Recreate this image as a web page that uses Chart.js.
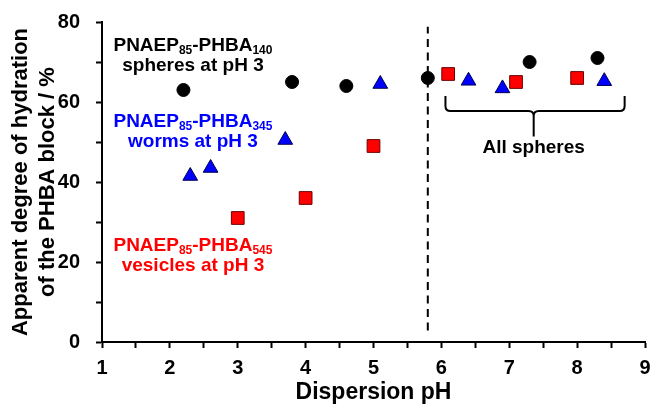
<!DOCTYPE html>
<html>
<head>
<meta charset="utf-8">
<title>Hydration vs pH</title>
<script src="https://cdn.jsdelivr.net/npm/chart.js@4.4.1/dist/chart.umd.min.js"></script>
<style>
  body { margin: 0; background: #fff; }
  #wrap { width: 652px; height: 404px; }
</style>
</head>
<body>
<div id="wrap"><canvas id="myChart"></canvas></div>
<script>
'use strict';

// data
const spheresPH = [2.2, 3.8, 4.6, 5.8, 7.3, 8.3];
const spheresHyd = [63, 65, 64, 66, 70, 71];

const wormsPH = [2.3, 2.6, 3.7, 5.1, 6.4, 6.9, 8.4];
const wormsHyd = [41.5, 43.5, 50.5, 64.5, 65.3, 63.4, 65.2];

const vesiclesPH = [3.0, 4.0, 5.0, 6.1, 7.1, 8.0];
const vesiclesHyd = [31, 36, 49, 67, 65, 66];

const dividerPH = [5.8, 5.8];
const dividerHyd = [2.9, 78.8];

const xTicks = [1, 2, 3, 4, 5, 6, 7, 8, 9];
const yTicks = [0, 20, 40, 60, 80];

function toPoints(xs, ys) {
  let pts = [];
  for (let i = 0; i < xs.length; i++) {
    pts.push({ x: xs[i], y: ys[i] });
  }
  return pts;
}

const FONT = '"Liberation Sans", Arial, sans-serif';

// text drawn in bold with subscripts, centred on x
function drawRich(ctx, parts, cx, by, color) {
  let widths = [];
  let total = 0;
  for (let i = 0; i < parts.length; i++) {
    ctx.font = parts[i].sub ? 'bold 12px ' + FONT : 'bold 19px ' + FONT;
    let w = ctx.measureText(parts[i].t).width;
    widths.push(w);
    total += w;
  }
  let x = cx - total / 2;
  ctx.fillStyle = color;
  ctx.textAlign = 'left';
  ctx.textBaseline = 'alphabetic';
  for (let i = 0; i < parts.length; i++) {
    ctx.font = parts[i].sub ? 'bold 12px ' + FONT : 'bold 19px ' + FONT;
    ctx.fillText(parts[i].t, x, parts[i].sub ? by + 3 : by);
    x += widths[i];
  }
}

const notes = [
  { x: 2.34, y: 72.7, color: '#000000', parts: [{ t: 'PNAEP' }, { t: '85', sub: true }, { t: '-PHBA' }, { t: '140', sub: true }] },
  { x: 2.34, y: 67.7, color: '#000000', parts: [{ t: 'spheres at pH 3' }] },
  { x: 2.34, y: 53.75, color: '#0000ff', parts: [{ t: 'PNAEP' }, { t: '85', sub: true }, { t: '-PHBA' }, { t: '345', sub: true }] },
  { x: 2.34, y: 48.75, color: '#0000ff', parts: [{ t: 'worms at pH 3' }] },
  { x: 2.34, y: 22.7, color: '#ff0000', parts: [{ t: 'PNAEP' }, { t: '85', sub: true }, { t: '-PHBA' }, { t: '545', sub: true }] },
  { x: 2.34, y: 17.7, color: '#ff0000', parts: [{ t: 'vesicles at pH 3' }] },
  { x: 7.36, y: 47.3, color: '#000000', parts: [{ t: 'All spheres' }] }
];

const notesPlugin = {
  id: 'notes',
  afterDatasetsDraw(chart) {
    const ctx = chart.ctx;
    const xs = chart.scales.x;
    const ys = chart.scales.y;
    ctx.save();

    // curly bracket over the sphere points
    let l = xs.getPixelForValue(6.06);
    let r = xs.getPixelForValue(8.70);
    let m = xs.getPixelForValue(7.36);
    let top = ys.getPixelForValue(61.5);
    let mid = ys.getPixelForValue(57.75);
    let tip = ys.getPixelForValue(51.4);
    let rad = 5;
    ctx.strokeStyle = '#000';
    ctx.lineWidth = 2;
    ctx.beginPath();
    ctx.moveTo(l, top);
    ctx.lineTo(l, mid - rad);
    ctx.quadraticCurveTo(l, mid, l + rad, mid);
    ctx.lineTo(m - rad, mid);
    ctx.quadraticCurveTo(m, mid, m, mid + rad);
    ctx.lineTo(m, tip);
    ctx.moveTo(m, mid + rad);
    ctx.quadraticCurveTo(m, mid, m + rad, mid);
    ctx.lineTo(r - rad, mid);
    ctx.quadraticCurveTo(r, mid, r, mid - rad);
    ctx.lineTo(r, top);
    ctx.stroke();

    for (let i = 0; i < notes.length; i++) {
      let n = notes[i];
      drawRich(ctx, n.parts, xs.getPixelForValue(n.x), ys.getPixelForValue(n.y), n.color);
    }
    ctx.restore();
  }
};

const ctx = document.getElementById('myChart').getContext('2d');
const myChart = new Chart(ctx, {
  type: 'scatter',
  data: {
    datasets: [{
      label: 'divider',
      type: 'line',
      data: toPoints(dividerPH, dividerHyd),
      borderColor: '#000',
      borderWidth: 2,
      borderDash: [8, 5.5],
      pointRadius: 0,
      fill: false
    }, {
      label: 'spheres',
      data: toPoints(spheresPH, spheresHyd),
      pointStyle: 'circle',
      pointRadius: 6.5,
      backgroundColor: '#000',
      borderColor: '#000',
      borderWidth: 1
    }, {
      label: 'vesicles',
      data: toPoints(vesiclesPH, vesiclesHyd),
      pointStyle: 'rect',
      pointRadius: 9,
      backgroundColor: '#ff0000',
      borderColor: '#6b0000',
      borderWidth: 1
    }, {
      label: 'worms',
      data: toPoints(wormsPH, wormsHyd),
      pointStyle: 'triangle',
      pointRadius: 8.5,
      backgroundColor: '#0000ff',
      borderColor: '#00004d',
      borderWidth: 1
    }]
  },
  options: {
    responsive: true,
    maintainAspectRatio: false,
    animation: false,
    layout: { autoPadding: false, padding: { top: 22, right: 7, left: 0, bottom: 0 } },
    plugins: {
      legend: { display: false },
      tooltip: { enabled: false }
    },
    scales: {
      x: {
        type: 'linear',
        min: 1,
        max: 9,
        afterFit(scale) {
          scale.height = 62;
          scale.paddingRight = 0;
        },
        border: { color: '#000', width: 2 },
        grid: { drawOnChartArea: false, drawTicks: true, tickLength: 6, tickWidth: 2, tickColor: '#000' },
        ticks: {
          stepSize: 0.5,
          autoSkip: false,
          maxRotation: 0,
          padding: 8,
          color: '#000',
          font: { family: FONT, size: 20, weight: 'bold' },
          callback: (v) => xTicks.includes(v) ? String(v) : ''
        },
        title: {
          display: true,
          text: 'Dispersion pH',
          color: '#000',
          font: { family: FONT, size: 23, weight: 'bold', lineHeight: 1 },
          padding: { top: 0, bottom: 0 }
        }
      },
      y: {
        min: 0,
        max: 80,
        afterFit(scale) {
          scale.width = 102;
          scale.paddingTop = 0;
        },
        border: { color: '#000', width: 2 },
        grid: { drawOnChartArea: false, drawTicks: true, tickLength: 6, tickWidth: 2, tickColor: '#000' },
        ticks: {
          stepSize: 10,
          autoSkip: false,
          padding: 16,
          color: '#000',
          font: { family: FONT, size: 20, weight: 'bold' },
          callback: (v) => yTicks.includes(v) ? String(v) : ''
        },
        title: {
          display: true,
          text: ['Apparent degree of hydration', 'of the PHBA block / %'],
          color: '#000',
          font: { family: FONT, size: 22, weight: 'bold', lineHeight: 1.2 },
          padding: { top: 8, bottom: 0 }
        }
      }
    }
  },
  plugins: [notesPlugin]
});
</script>
</body>
</html>
